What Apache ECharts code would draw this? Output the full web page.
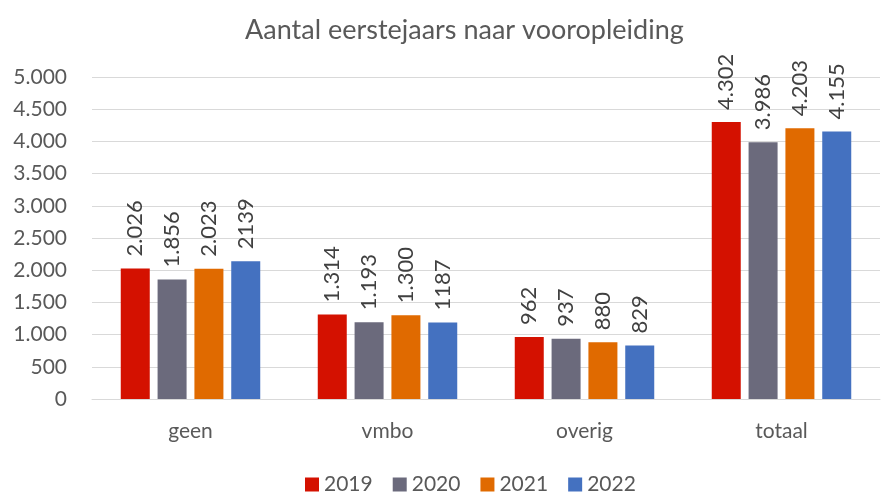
<!DOCTYPE html>
<html>
<head>
<meta charset="utf-8">
<script src="https://cdn.jsdelivr.net/npm/echarts@6/dist/echarts.min.js"></script>
<style>
    html, body {margin: 0; padding: 0; background: #fff;}
    #contain {width: 894px; height: 492px;}
</style>
</head>
<body>
<div id="contain"></div>
<script>
var categories = ['geen', 'vmbo', 'overig', 'totaal'];
var years = ['2019', '2020', '2021', '2022'];
var v2019 = [2026, 1314, 962, 4302];
var v2020 = [1856, 1193, 937, 3986];
var v2021 = [2023, 1300, 880, 4203];
var v2022 = [2139, 1187, 829, 4155];
// labels as printed in the source (2022 partly without separator)
var t2019 = ['2.026', '1.314', '962', '4.302'];
var t2020 = ['1.856', '1.193', '937', '3.986'];
var t2021 = ['2.023', '1.300', '880', '4.203'];
var t2022 = ['2139', '1187', '829', '4.155'];
var colors = ['#d41100', '#6b6a7c', '#e06a00', '#4471c0'];

var font = 'Lato, "Open Sans", sans-serif';

function makeSeries(name, values, texts, color) {
    return {
        name: name,
        type: 'bar',
        data: values,
        barWidth: 29,
        barGap: '27%',
        itemStyle: {color: color},
        label: {
            show: true,
            position: 'top',
            rotate: 90,
            align: 'left',
            verticalAlign: 'middle',
            distance: 12,
            color: '#404040',
            fontSize: 22,
            fontFamily: font,
            formatter: function (p) { return texts[p.dataIndex]; }
        }
    };
}

var myChart = echarts.init(document.getElementById('contain'));
var option = {
    animation: false,
    backgroundColor: '#fff',
    title: {
        text: 'Aantal eerstejaars naar vooropleiding',
        left: 240,
        top: 12,
        textStyle: {color: '#595959', fontSize: 27, fontWeight: 'normal', fontFamily: font}
    },
    legend: {
        data: years,
        top: 469,
        left: 300,
        itemWidth: 14,
        itemHeight: 14,
        itemGap: 20,
        icon: 'rect',
        textStyle: {color: '#595959', fontSize: 21, fontFamily: font}
    },
    grid: {left: 92, right: 14, top: 77, bottom: 93, containLabel: false},
    xAxis: {
        type: 'category',
        data: categories,
        axisTick: {show: false},
        axisLine: {show: true, lineStyle: {color: '#d9d9d9', width: 1}},
        axisLabel: {color: '#595959', fontSize: 21, fontFamily: font, margin: 22}
    },
    yAxis: {
        type: 'value',
        min: 0,
        max: 5000,
        interval: 500,
        axisLine: {show: false},
        axisTick: {show: false},
        splitLine: {show: true, lineStyle: {color: '#d9d9d9', width: 1}},
        axisLabel: {
            color: '#595959',
            fontSize: 21,
            fontFamily: font,
            margin: 25,
            formatter: function (v) { return v.toString().replace(/\B(?=(\d{3})+(?!\d))/g, '.'); }
        }
    },
    series: [
        makeSeries(years[0], v2019, t2019, colors[0]),
        makeSeries(years[1], v2020, t2020, colors[1]),
        makeSeries(years[2], v2021, t2021, colors[2]),
        makeSeries(years[3], v2022, t2022, colors[3])
    ]
};
myChart.setOption(option, true);
</script>
</body>
</html>
